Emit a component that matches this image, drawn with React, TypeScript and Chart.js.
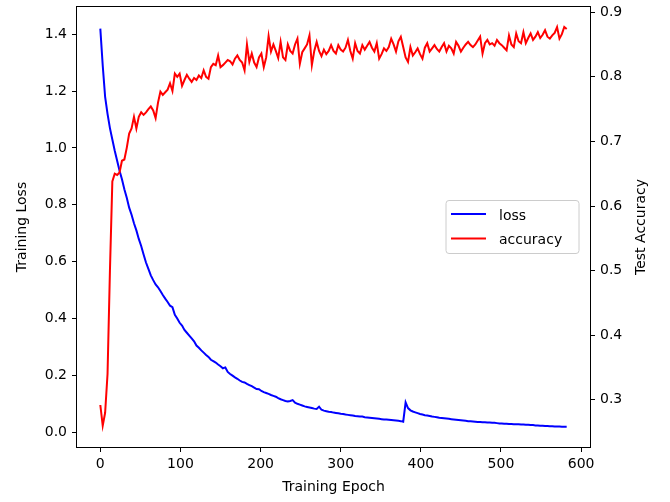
import React, { useEffect, useRef } from "react";
import { Chart, registerables } from "chart.js";

Chart.register(...registerables);

const epochs: number[] = Array.from({ length: 195 }, (_, i) => i * 3);

const lossValues: number[] = [
  1.42, 1.29, 1.18, 1.12, 1.07, 1.03, 0.99, 0.955, 0.92, 0.89,
  0.855, 0.825, 0.79, 0.765, 0.735, 0.71, 0.68, 0.655, 0.625, 0.597,
  0.575, 0.552, 0.535, 0.52, 0.51, 0.497, 0.483, 0.47, 0.458, 0.445,
  0.44, 0.413, 0.4, 0.385, 0.375, 0.36, 0.35, 0.34, 0.33, 0.32,
  0.305, 0.297, 0.288, 0.28, 0.272, 0.265, 0.255, 0.25, 0.245, 0.238,
  0.232, 0.225, 0.228, 0.212, 0.205, 0.199, 0.193, 0.188, 0.182, 0.177,
  0.175, 0.17, 0.166, 0.162, 0.157, 0.152, 0.151, 0.145, 0.141, 0.138,
  0.135, 0.131, 0.128, 0.125, 0.12, 0.116, 0.113, 0.11, 0.108, 0.11,
  0.113, 0.104, 0.1, 0.097, 0.094, 0.091, 0.089, 0.087, 0.085, 0.083,
  0.082, 0.09, 0.079, 0.076, 0.074, 0.072, 0.071, 0.069, 0.068, 0.067,
  0.065, 0.064, 0.062, 0.061, 0.06, 0.059, 0.057, 0.056, 0.055, 0.055,
  0.053, 0.052, 0.051, 0.05, 0.049, 0.048, 0.047, 0.046, 0.045, 0.045,
  0.044, 0.043, 0.042, 0.041, 0.04, 0.039, 0.037, 0.105, 0.085, 0.077,
  0.073, 0.07, 0.067, 0.064, 0.062, 0.06, 0.059, 0.057, 0.055, 0.054,
  0.053, 0.051, 0.05, 0.049, 0.048, 0.047, 0.046, 0.045, 0.044, 0.043,
  0.042, 0.041, 0.04, 0.039, 0.039, 0.038, 0.037, 0.036, 0.036, 0.035,
  0.035, 0.034, 0.034, 0.033, 0.033, 0.032, 0.031, 0.031, 0.03, 0.03,
  0.029, 0.029, 0.028, 0.028, 0.028, 0.027, 0.027, 0.026, 0.026, 0.025,
  0.025, 0.024, 0.024, 0.023, 0.023, 0.022, 0.022, 0.021, 0.021, 0.02,
  0.02, 0.02, 0.019, 0.019, 0.019,
];

const accuracyValues: number[] = [
  0.292, 0.26, 0.28, 0.34, 0.5, 0.638, 0.65, 0.648, 0.652, 0.67,
  0.672, 0.69, 0.712, 0.72, 0.738, 0.72, 0.738, 0.745, 0.741, 0.745,
  0.75, 0.754, 0.748, 0.736, 0.76, 0.777, 0.772, 0.776, 0.78, 0.79,
  0.778, 0.805, 0.8, 0.805, 0.786, 0.795, 0.803, 0.797, 0.792, 0.798,
  0.795, 0.802, 0.798, 0.81, 0.8, 0.797, 0.815, 0.82, 0.818, 0.833,
  0.815, 0.818, 0.822, 0.826, 0.824, 0.819, 0.828, 0.833, 0.826, 0.822,
  0.81, 0.85, 0.823, 0.836, 0.822, 0.815, 0.83, 0.836, 0.815, 0.83,
  0.863, 0.839, 0.85, 0.84, 0.829, 0.854, 0.83, 0.826, 0.85, 0.84,
  0.836, 0.85, 0.859, 0.82, 0.838, 0.844, 0.85, 0.864, 0.818, 0.84,
  0.854, 0.84, 0.832, 0.842, 0.835, 0.84, 0.849, 0.84, 0.836, 0.849,
  0.842, 0.839, 0.845, 0.857, 0.84, 0.828, 0.852, 0.84, 0.836, 0.849,
  0.842, 0.848, 0.854, 0.845, 0.839, 0.852, 0.828, 0.835, 0.844, 0.84,
  0.846, 0.859, 0.85, 0.839, 0.855, 0.862, 0.846, 0.83, 0.823, 0.846,
  0.833, 0.838, 0.844, 0.835, 0.828, 0.845, 0.852, 0.839, 0.844, 0.849,
  0.843, 0.839, 0.846, 0.852, 0.839, 0.848, 0.844, 0.836, 0.854, 0.848,
  0.839, 0.845, 0.85, 0.854, 0.849, 0.846, 0.85, 0.856, 0.862, 0.836,
  0.852, 0.857, 0.85, 0.852, 0.848, 0.857, 0.852, 0.849, 0.845, 0.841,
  0.864, 0.85, 0.846, 0.867, 0.855, 0.852, 0.869, 0.852, 0.86, 0.867,
  0.857, 0.862, 0.869, 0.86, 0.865, 0.872, 0.862, 0.859, 0.864, 0.868,
  0.877, 0.859, 0.866, 0.877, 0.874,
];

const xTicks: number[] = [0, 100, 200, 300, 400, 500, 600];
const lossTicks: number[] = [0, 0.2, 0.4, 0.6, 0.8, 1.0, 1.2, 1.4];
const accTicks: number[] = [0.3, 0.4, 0.5, 0.6, 0.7, 0.8, 0.9];

const FONT = "'DejaVu Sans', sans-serif";

const framePlugin = {
  id: "frame",
  afterDatasetsDraw(chart: any) {
    const { ctx, chartArea } = chart;
    ctx.save();
    ctx.strokeStyle = "#000";
    ctx.lineWidth = 1;
    ctx.strokeRect(
      chartArea.left - 0.5,
      chartArea.top - 0.5,
      chartArea.right - chartArea.left + 1,
      chartArea.bottom - chartArea.top + 1
    );
    ctx.restore();
  },
  afterDraw(chart: any) {
    const { ctx, chartArea } = chart;
    // right axis title (bottom-to-top like matplotlib)
    ctx.save();
    ctx.fillStyle = "#000";
    ctx.font = `14px ${FONT}`;
    ctx.translate(641, (chartArea.top + chartArea.bottom) / 2);
    ctx.rotate(-Math.PI / 2);
    ctx.textAlign = "center";
    ctx.textBaseline = "middle";
    ctx.fillText("Test Accuracy", 0, 0);
    ctx.restore();

    // legend, center right
    const w = 133;
    const h = 53;
    const x = chartArea.right - 11 - w;
    const y = (chartArea.top + chartArea.bottom) / 2 - h / 2;
    ctx.save();
    const r = 3;
    ctx.beginPath();
    ctx.moveTo(x + r, y);
    ctx.lineTo(x + w - r, y);
    ctx.arcTo(x + w, y, x + w, y + r, r);
    ctx.lineTo(x + w, y + h - r);
    ctx.arcTo(x + w, y + h, x + w - r, y + h, r);
    ctx.lineTo(x + r, y + h);
    ctx.arcTo(x, y + h, x, y + h - r, r);
    ctx.lineTo(x, y + r);
    ctx.arcTo(x, y, x + r, y, r);
    ctx.closePath();
    ctx.fillStyle = "rgba(255,255,255,0.8)";
    ctx.fill();
    ctx.strokeStyle = "#cccccc";
    ctx.lineWidth = 1;
    ctx.stroke();

    const items = [
      { label: "loss", color: "#0000ff" },
      { label: "accuracy", color: "#ff0000" },
    ];
    items.forEach((it, i) => {
      const ly = y + 13.5 + i * 24.5;
      ctx.beginPath();
      ctx.moveTo(x + 5, ly);
      ctx.lineTo(x + 40, ly);
      ctx.strokeStyle = it.color;
      ctx.lineWidth = 2;
      ctx.stroke();
      ctx.fillStyle = "#000";
      ctx.font = `14px ${FONT}`;
      ctx.textAlign = "left";
      ctx.textBaseline = "alphabetic";
      ctx.fillText(it.label, x + 53, ly + 5.5);
    });
    ctx.restore();
  },
};

export default function App() {
  const canvasRef = useRef<HTMLCanvasElement | null>(null);

  useEffect(() => {
    if (!canvasRef.current) return;
    Chart.defaults.font.family = FONT;
    Chart.defaults.font.size = 14;
    Chart.defaults.color = "#000";

    const tickGrid = {
      display: true,
      drawOnChartArea: false,
      drawTicks: true,
      tickLength: 5,
      lineWidth: 1,
      color: "#000",
      tickColor: "#000",
    };

    const chart = new Chart(canvasRef.current, {
      type: "line",
      data: {
        datasets: [
          {
            label: "accuracy",
            data: epochs.map((e, i) => ({ x: e, y: accuracyValues[i] })),
            borderColor: "#ff0000",
            borderWidth: 2,
            pointRadius: 0,
            tension: 0,
            yAxisID: "y2",
            order: 0,
          },
          {
            label: "loss",
            data: epochs.map((e, i) => ({ x: e, y: lossValues[i] })),
            borderColor: "#0000ff",
            borderWidth: 2,
            pointRadius: 0,
            tension: 0,
            yAxisID: "y",
            order: 1,
          },
        ],
      },
      options: {
        animation: false,
        responsive: true,
        maintainAspectRatio: false,
        devicePixelRatio: 1,
        layout: { padding: { top: 7, left: 0, right: 0, bottom: 0 } },
        plugins: {
          legend: { display: false },
          tooltip: { enabled: false },
        },
        scales: {
          x: {
            type: "linear",
            position: "bottom",
            min: -29.1,
            max: 611.1,
            grid: tickGrid,
            border: { display: false },
            afterBuildTicks: (s: any) => {
              s.ticks = xTicks.map((v) => ({ value: v }));
            },
            afterFit: (s: any) => {
              s.height = 55;
              s.paddingLeft = 0;
              s.paddingRight = 0;
            },
            ticks: {
              padding: 4,
              maxRotation: 0,
              autoSkip: false,
              callback: (v: any) => String(v),
            },
            title: {
              display: true,
              text: "Training Epoch",
              font: { size: 14 },
              padding: { top: 0, bottom: 6.6 },
            },
          },
          y: {
            type: "linear",
            position: "left",
            min: -0.052,
            max: 1.496,
            grid: tickGrid,
            border: { display: false },
            afterBuildTicks: (s: any) => {
              s.ticks = lossTicks.map((v) => ({ value: v }));
            },
            afterFit: (s: any) => {
              s.width = 77;
              s.paddingTop = 0;
              s.paddingBottom = 0;
            },
            ticks: {
              padding: 5,
              autoSkip: false,
              callback: (v: any) => Number(v).toFixed(1),
            },
            title: {
              display: true,
              text: "Training Loss",
              font: { size: 14 },
              padding: { top: 13.6, bottom: 0 },
            },
          },
          y2: {
            type: "linear",
            position: "right",
            min: 0.227,
            max: 0.908,
            grid: tickGrid,
            border: { display: false },
            afterBuildTicks: (s: any) => {
              s.ticks = accTicks.map((v) => ({ value: v }));
            },
            afterFit: (s: any) => {
              s.width = 80;
              s.paddingTop = 0;
              s.paddingBottom = 0;
            },
            ticks: {
              padding: 5,
              autoSkip: false,
              callback: (v: any) => Number(v).toFixed(1),
            },
          },
        },
      },
      plugins: [framePlugin],
    });

    return () => {
      chart.destroy();
    };
  }, []);

  return (
    <div
      style={{
        position: "absolute",
        left: 0,
        top: 0,
        width: 670,
        height: 502,
        background: "#fff",
      }}
    >
      <canvas ref={canvasRef} />
    </div>
  );
}
